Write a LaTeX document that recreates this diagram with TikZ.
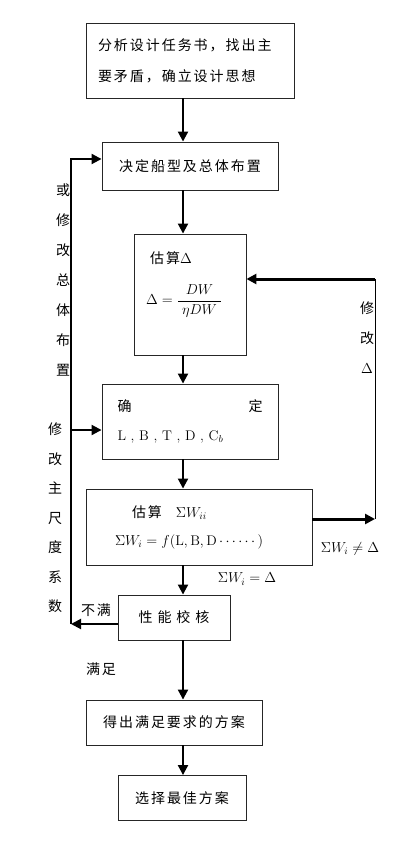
\documentclass[tikz,border=0pt]{standalone}
\usepackage{fontspec}
\usepackage{amsmath}
\newfontfamily\cjk[LetterSpace=14]{Noto Sans CJK SC}
\usetikzlibrary{arrows.meta}
\begin{document}
\begin{tikzpicture}[x=1pt, y=-1pt,
    box/.style={draw=black!85, line width=0.9pt, inner sep=0pt, align=center,
        font=\cjk\fontsize{14}{31}\selectfont},
    flow/.style={line width=2pt, -{Triangle[length=10pt,width=10pt]}},
    vlabel/.style={inner sep=0pt, align=center, font=\cjk\fontsize{14}{30}\selectfont},
    note/.style={inner sep=0pt, font=\cjk\fontsize{14}{16}\selectfont},
    ]
    \useasboundingbox (0,0) rectangle (419,845);
    % boxes, top to bottom
    \node[box, minimum width=208, minimum height=75, text width=184, align=left] (task) at (190,60.5) {分析设计任务书，找出主\\要矛盾，确立设计思想};
    \node[box, minimum width=176, minimum height=48] (layout) at (190,166) {决定船型及总体布置};
    \node[box, minimum width=112, minimum height=121] (est) at (190,294.5) {};
    \node[note, anchor=west] (esttitle) at (150,258) {估算$\Delta$};
    \node[note, anchor=west, font=\fontsize{15}{18}\selectfont] (estformula) at (146,301) {$\Delta=\dfrac{\;DW\;}{\;\eta DW\;}$};
    \node[box, minimum width=176, minimum height=75, text width=145, align=left, font=\cjk\fontsize{14}{29}\selectfont] (dims) at (190,421.5) {\makebox[145pt]{确\hfill 定}\\{\rmfamily L , B , T , D , C$_b$}};
    \node[box, minimum width=226, minimum height=76, text width=168, align=left, font=\cjk\fontsize{14}{28}\selectfont] (weight) at (199,527) {\hspace*{17pt}估算\quad$\Sigma W_{ii}$\\$\Sigma W_i = f(\mathrm{L,B,D}\cdots\cdots)$};
    \node[box, minimum width=112, minimum height=45] (check) at (174,617.5) {性\hspace{5pt}能\hspace{5pt}校\hspace{5pt}核};
    \node[box, minimum width=176, minimum height=45] (result) at (174,722.5) {得出满足要求的方案};
    \node[box, minimum width=128, minimum height=45] (best) at (182,798) {选择最佳方案};
    % main flow
    \coordinate (spine) at (183,0);
    \draw[flow] (task.south -| spine) -- (layout.north -| spine);
    \draw[flow] (layout.south -| spine) -- (est.north -| spine);
    \draw[flow] (est.south -| spine) -- (dims.north -| spine);
    \draw[flow] (dims.south -| spine) -- (weight.north -| spine);
    \draw[flow] (weight.south -| spine) -- (check.north -| spine);
    \draw[flow] (check.south -| spine) -- (result.north -| spine);
    \draw[flow] (result.south -| spine) -- (best.north -| spine);
    % right loop
    \coordinate (rtop) at (375,279);
    \coordinate (rbot) at (375,519);
    \draw[flow, line width=3pt] (weight.east |- rbot) -- (rbot);
    \draw[line width=0.8pt] (rbot) -- (rtop);
    \draw[flow, line width=3pt] (rtop) -- (rtop -| est.east);
    % left loop
    \coordinate (ltop) at (71,159);
    \coordinate (lbot) at (71,624);
    \coordinate (ldim) at (71,430);
    \draw[flow] (check.west |- lbot) -- (lbot);
    \draw[flow] (lbot) -- (ltop) -- (ltop -| layout.west);
    \draw[flow] (ldim) -- (ldim -| dims.west);
    % labels
    \node[vlabel] (layoutnote) at (63,280) {或\\修\\改\\总\\体\\布\\置};
    \node[vlabel, font=\cjk\fontsize{14}{29.5}\selectfont] (dimnote) at (55,518) {修\\改\\主\\尺\\度\\系\\数};
    \node[vlabel] (deltanote) at (367,338) {修\\改\\$\Delta$};
    \node[note] (fail) at (96,610) {不满};
    \node[note] (pass) at (101,669) {满足};
    \node[note] (eqnote) at (247,579) {$\Sigma W_i=\Delta$};
    \node[note] (neqnote) at (350,549) {$\Sigma W_i\neq\Delta$};
\end{tikzpicture}
\end{document}
